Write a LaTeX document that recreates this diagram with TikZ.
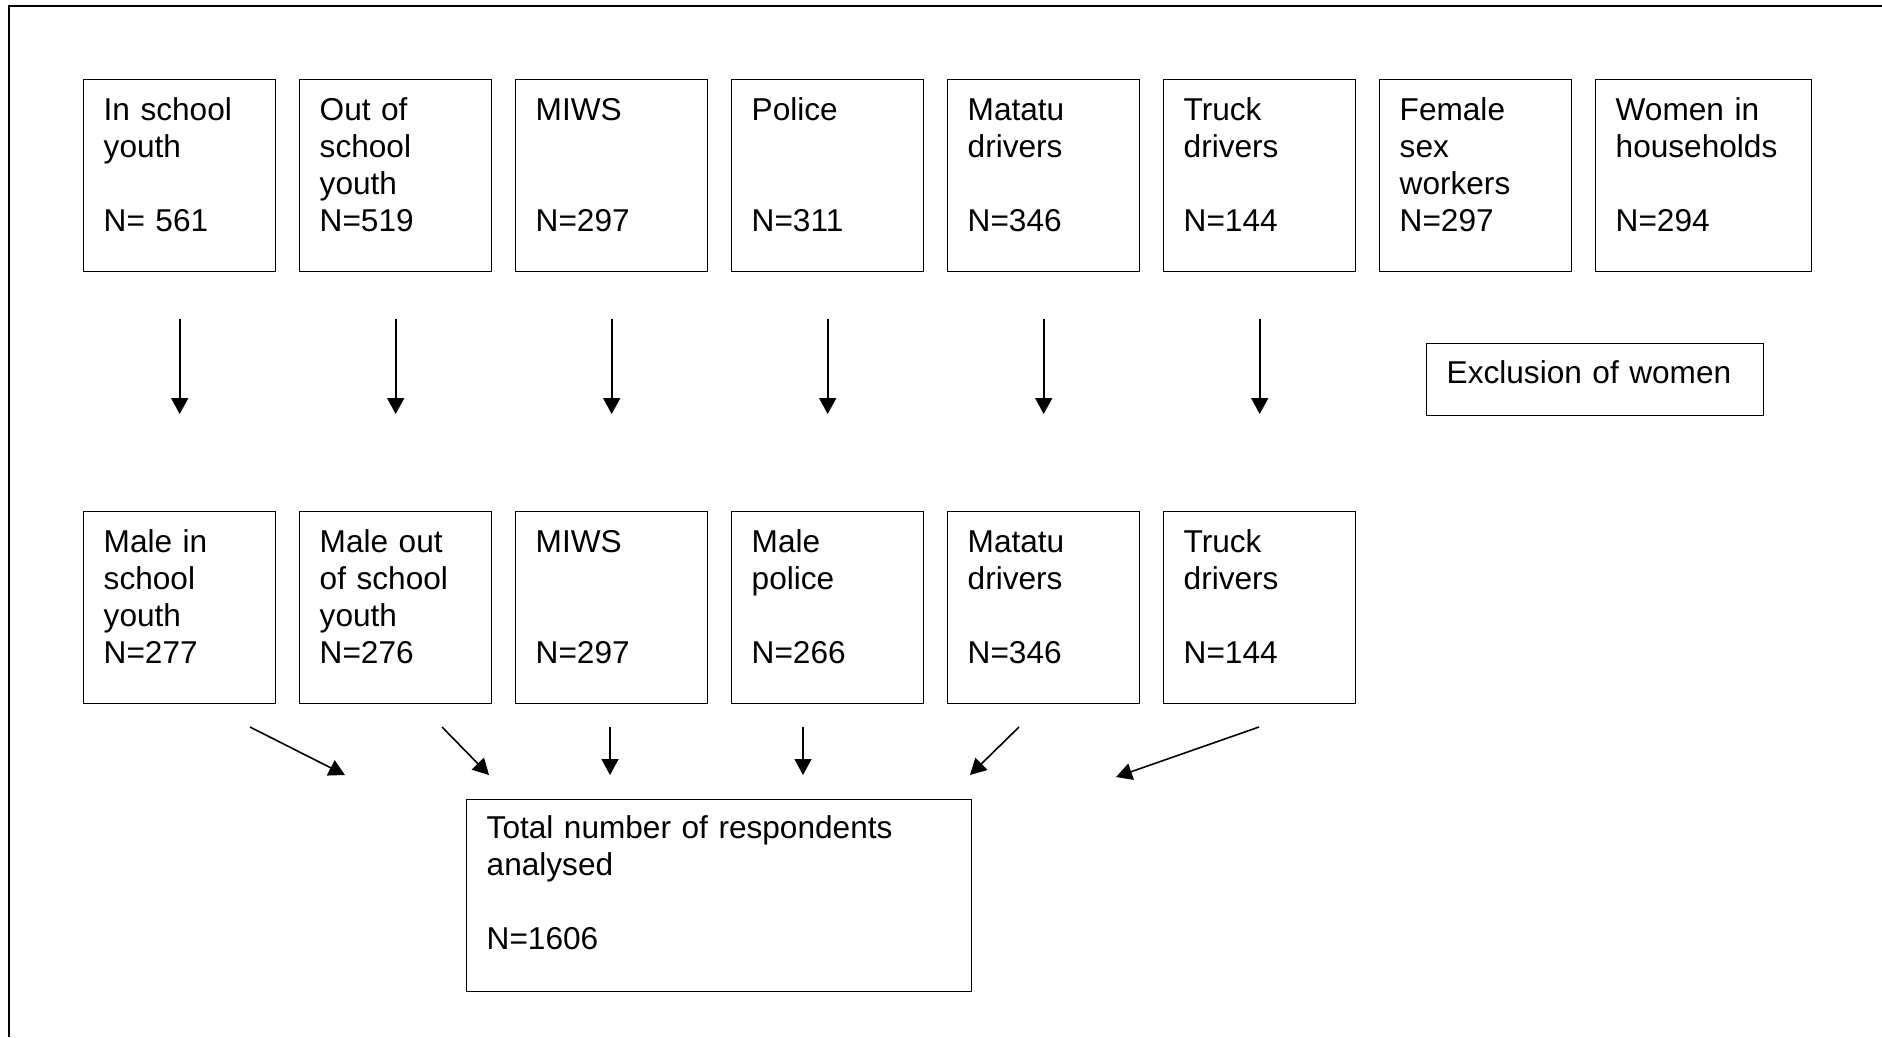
\documentclass[tikz,border=0pt]{standalone}
\usepackage{fontspec}
\setmainfont{Liberation Sans}
\usetikzlibrary{arrows.meta}

\begin{document}
\begin{tikzpicture}[x=1pt, y=-1pt,
    grp/.style={draw, line width=1.4pt, anchor=north west, align=left,
      inner xsep=20pt, inner ysep=0pt, text width=152pt,
      text height=41pt, text depth=151pt,
      font=\fontsize{31.6}{37}\selectfont},
    arr/.style={line width=1.6pt, -{Triangle[width=17pt, length=16pt]}}]
  % Page size
  \useasboundingbox (0,0) rectangle (1882,1037);

  % Frame round the chart
  \draw[line width=2.4pt] (9,1037) -- (9,6) -- (1882,6);

  % Groups as sampled
  \node[grp] (t1) at (83,79) {In school\\ youth\\ ~\\ N= 561};
  \node[grp] (t2) at (299,79) {Out of\\ school\\ youth\\ N=519};
  \node[grp] (t3) at (515,79) {MIWS\\ ~\\ ~\\ N=297};
  \node[grp] (t4) at (731,79) {Police\\ ~\\ ~\\ N=311};
  \node[grp] (t5) at (947,79) {Matatu\\ drivers\\ ~\\ N=346};
  \node[grp] (t6) at (1163,79) {Truck\\ drivers\\ ~\\ N=144};
  \node[grp] (t7) at (1379,79) {Female\\ sex\\ workers\\ N=297};
  \node[grp, text width=176pt] (t8) at (1595,79) {Women in\\ households\\ ~\\ N=294};

  % Exclusion step
  \node[grp, text width=297pt, text height=40pt, text depth=32pt] (excl) at (1426,343) {Exclusion of women};

  % Groups after exclusion
  \node[grp] (m1) at (83,511) {Male in\\ school\\ youth\\ N=277};
  \node[grp] (m2) at (299,511) {Male out\\ of school\\ youth\\ N=276};
  \node[grp] (m3) at (515,511) {MIWS\\ ~\\ ~\\ N=297};
  \node[grp] (m4) at (731,511) {Male\\ police\\ ~\\ N=266};
  \node[grp] (m5) at (947,511) {Matatu\\ drivers\\ ~\\ N=346};
  \node[grp] (m6) at (1163,511) {Truck\\ drivers\\ ~\\ N=144};

  % Total analysed
  \node[grp, text width=465pt, text height=39pt, text depth=153pt] (total) at (466,799)
    {Total number of respondents\\ analysed\\ ~\\ N=1606};

  % Arrows from sampled to male groups
  \foreach \i in {1,...,6}
    \draw[arr, shorten <=47pt, shorten >=97pt] (t\i.south) -- (m\i.north);

  % Arrows into the total
  \foreach \i/\sx/\ex/\ey in {1/250/345/775, 2/442/489/775, 3/610/610/775,
      4/803/803/775, 5/1019/970/775, 6/1259/1116/777} {
    \coordinate (from\i) at (\sx,727);
    \coordinate (to\i) at (\ex,\ey);
    \draw[arr] (from\i) -- (to\i);
  }
\end{tikzpicture}
\end{document}
